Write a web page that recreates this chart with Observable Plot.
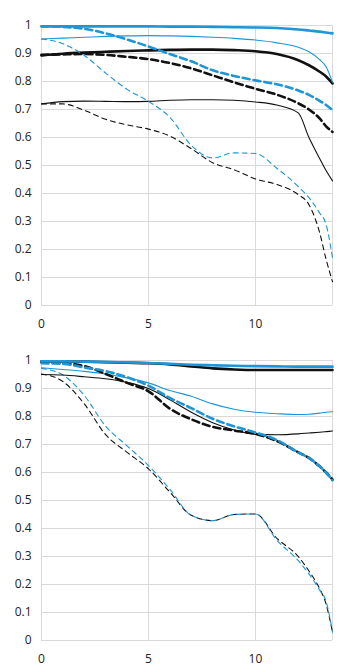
<!DOCTYPE html>
<html>
<head>
<meta charset="utf-8">
<script src="https://cdn.jsdelivr.net/npm/d3@7"></script>
<script src="https://cdn.jsdelivr.net/npm/@observablehq/plot@0.6"></script>
<style>
  html, body { margin: 0; padding: 0; background: #fff; }
  #chart svg { display: block; }
</style>
</head>
<body>
<div id="chart"></div>
<script>
// Shared x grid (image height, mm)
const xs = [0, 1, 2, 3, 4, 5, 6, 7, 8, 9, 10, 11, 12, 12.5, 13, 13.3, 13.6];
const xTicks = [0, 5, 10];
const xGrid = [0, 5, 10, 13.6];
const yTicks = [0, 0.1, 0.2, 0.3, 0.4, 0.5, 0.6, 0.7, 0.8, 0.9, 1];
const yLabels = ["0", "0.1", "0.2", "0.3", "0.4", "0.5", "0.6", "0.7", "0.8", "0.9", "1"];

// Top panel
const topBlueThickSolid  = [0.997, 0.997, 0.997, 0.997, 0.997, 0.997, 0.996, 0.996, 0.995, 0.994, 0.993, 0.991, 0.986, 0.982, 0.978, 0.975, 0.972];
const topBlueThinSolid   = [0.952, 0.955, 0.958, 0.961, 0.963, 0.964, 0.963, 0.961, 0.958, 0.954, 0.948, 0.938, 0.922, 0.906, 0.878, 0.853, 0.797];
const topBlackThickSolid = [0.893, 0.899, 0.903, 0.906, 0.909, 0.911, 0.913, 0.914, 0.914, 0.912, 0.908, 0.898, 0.876, 0.858, 0.835, 0.818, 0.793];
const topBlackThinSolid  = [0.720, 0.728, 0.730, 0.729, 0.728, 0.729, 0.733, 0.735, 0.735, 0.733, 0.727, 0.716, 0.688, 0.600, 0.525, 0.482, 0.445];
const topBlueThickDash   = [0.997, 0.995, 0.988, 0.972, 0.950, 0.925, 0.898, 0.872, 0.840, 0.820, 0.804, 0.790, 0.768, 0.752, 0.731, 0.716, 0.698];
const topBlackThickDash  = [0.895, 0.897, 0.898, 0.895, 0.888, 0.880, 0.866, 0.847, 0.822, 0.797, 0.774, 0.753, 0.722, 0.700, 0.668, 0.640, 0.620];
const topBlueThinDash    = [0.952, 0.935, 0.893, 0.830, 0.772, 0.729, 0.672, 0.572, 0.527, 0.545, 0.543, 0.490, 0.425, 0.385, 0.330, 0.290, 0.170];
const topBlackThinDash   = [0.720, 0.720, 0.697, 0.665, 0.645, 0.630, 0.605, 0.560, 0.510, 0.485, 0.452, 0.432, 0.396, 0.360, 0.260, 0.165, 0.085];

// Bottom panel
const botBlueThickSolid  = [0.997, 0.997, 0.996, 0.995, 0.993, 0.991, 0.988, 0.985, 0.983, 0.981, 0.980, 0.979, 0.978, 0.978, 0.978, 0.978, 0.978];
const botBlackThickSolid = [0.997, 0.997, 0.996, 0.994, 0.992, 0.990, 0.986, 0.979, 0.972, 0.968, 0.966, 0.966, 0.966, 0.966, 0.966, 0.966, 0.966];
const botBlueThickDash   = [0.990, 0.988, 0.975, 0.962, 0.940, 0.910, 0.866, 0.830, 0.792, 0.765, 0.743, 0.716, 0.672, 0.652, 0.622, 0.600, 0.572];
const botBlackThickDash  = [0.995, 0.990, 0.980, 0.952, 0.920, 0.890, 0.828, 0.790, 0.763, 0.750, 0.738, 0.712, 0.672, 0.652, 0.622, 0.600, 0.575];
const botBlueThinSolid   = [0.974, 0.968, 0.961, 0.952, 0.938, 0.920, 0.893, 0.872, 0.845, 0.826, 0.815, 0.810, 0.807, 0.808, 0.812, 0.815, 0.817];
const botBlackThinSolid  = [0.950, 0.948, 0.942, 0.935, 0.922, 0.900, 0.860, 0.815, 0.778, 0.752, 0.736, 0.735, 0.738, 0.741, 0.744, 0.746, 0.748];
const botBlueThinDash    = [0.972, 0.948, 0.875, 0.765, 0.695, 0.625, 0.540, 0.447, 0.428, 0.450, 0.452, 0.358, 0.285, 0.238, 0.180, 0.140, 0.030];
const botBlackThinDash   = [0.952, 0.925, 0.845, 0.735, 0.672, 0.613, 0.530, 0.447, 0.428, 0.450, 0.452, 0.365, 0.300, 0.248, 0.185, 0.130, 0.030];

const BLUE = "#1e95d6";
const BLACK = "#111111";
const GRID = "#d9d9d9";
const styles = {
  thickSolid: {strokeWidth: 2.6},
  thinSolid: {strokeWidth: 1.1},
  thickDash: {strokeWidth: 2.6, strokeDasharray: "7,4"},
  thinDash: {strokeWidth: 1.1, strokeDasharray: "5,4"}
};

const topSeries = [
  {v: topBlackThinSolid, c: BLACK, s: "thinSolid"},
  {v: topBlackThinDash, c: BLACK, s: "thinDash"},
  {v: topBlackThickDash, c: BLACK, s: "thickDash"},
  {v: topBlackThickSolid, c: BLACK, s: "thickSolid"},
  {v: topBlueThinDash, c: BLUE, s: "thinDash"},
  {v: topBlueThinSolid, c: BLUE, s: "thinSolid"},
  {v: topBlueThickDash, c: BLUE, s: "thickDash"},
  {v: topBlueThickSolid, c: BLUE, s: "thickSolid"}
];
const botSeries = [
  {v: botBlackThinDash, c: BLACK, s: "thinDash"},
  {v: botBlueThinDash, c: BLUE, s: "thinDash"},
  {v: botBlackThinSolid, c: BLACK, s: "thinSolid"},
  {v: botBlueThinSolid, c: BLUE, s: "thinSolid"},
  {v: botBlackThickDash, c: BLACK, s: "thickDash"},
  {v: botBlueThickDash, c: BLUE, s: "thickDash"},
  {v: botBlackThickSolid, c: BLACK, s: "thickSolid"},
  {v: botBlueThickSolid, c: BLUE, s: "thickSolid"}
];

function panel(series, height, mt, mb) {
  const lineMarks = series.map(({v, c, s}) =>
    Plot.line(xs.map((x, i) => ({x, y: v[i]})), {
      x: "x", y: "y", stroke: c, curve: "monotone-x", ...styles[s]
    })
  );
  return Plot.plot({
    width: 357,
    height,
    marginLeft: 41,
    marginRight: 25,
    marginTop: mt,
    marginBottom: mb,
    style: {fontFamily: "'Open Sans', 'Noto Sans', sans-serif", fontSize: "12px", color: "#222", background: "#fff"},
    x: {domain: [0, 13.6]},
    y: {domain: [0, 1]},
    marks: [
      Plot.ruleY(yTicks, {stroke: GRID, strokeWidth: 1}),
      Plot.ruleX(xGrid, {stroke: GRID, strokeWidth: 1}),
      Plot.axisX(xTicks, {tickSize: 0, tickPadding: 14, label: null, fill: "#222"}),
      Plot.axisY(yTicks, {tickSize: 0, tickPadding: 10, label: null, fill: "#222",
        tickFormat: (d) => yLabels[yTicks.indexOf(d)]}),
      ...lineMarks
    ]
  });
}

const el = document.getElementById("chart");
el.appendChild(panel(topSeries, 340, 25, 35));
el.appendChild(panel(botSeries, 332, 20, 32));
</script>
</body>
</html>
